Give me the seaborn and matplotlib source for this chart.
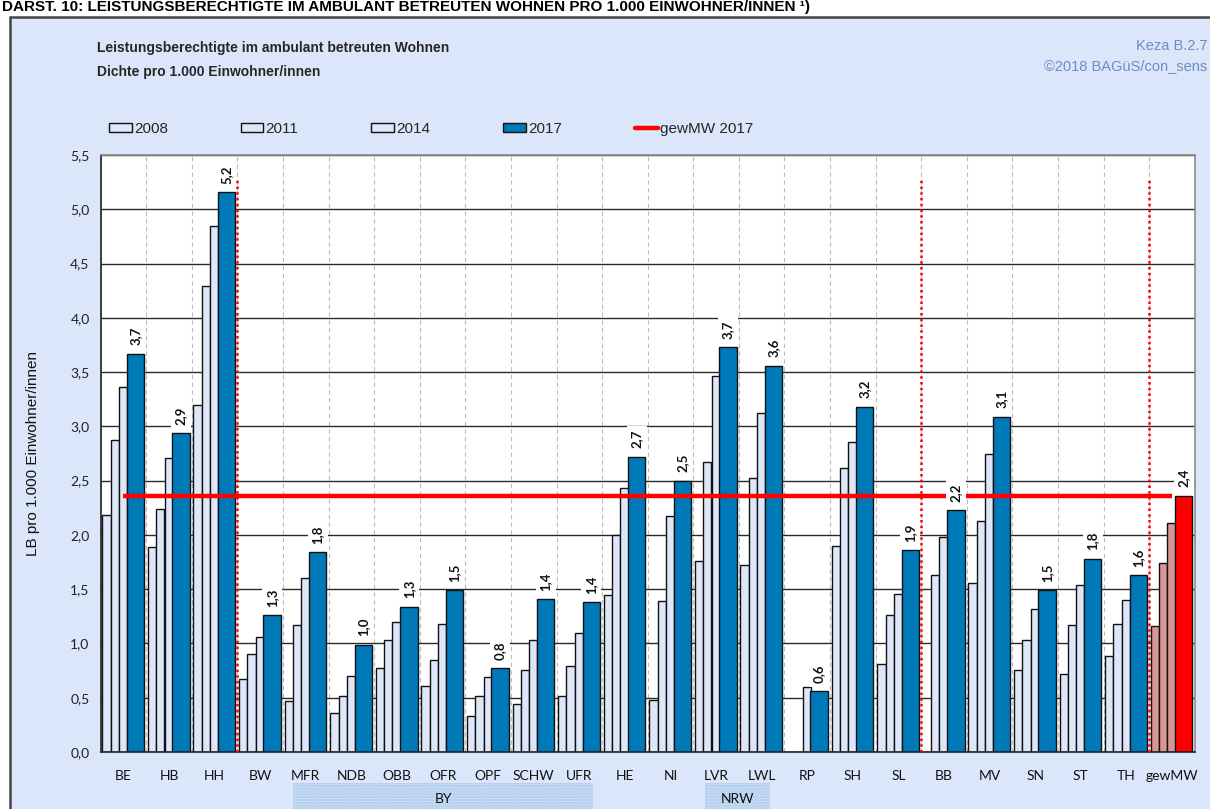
import numpy as np
import pandas as pd
import matplotlib
matplotlib.use("Agg")
import matplotlib.pyplot as plt
import matplotlib.transforms as mtransforms
from matplotlib.patches import Patch, Rectangle
from matplotlib.lines import Line2D
import seaborn as sns

# -----------------------------
# Data
# -----------------------------
regions = ["BE", "HB", "HH", "BW", "MFR", "NDB", "OBB", "OFR", "OPF", "SCHW", "UFR",
           "HE", "NI", "LVR", "LWL", "RP", "SH", "SL", "BB", "MV", "SN", "ST", "TH", "gewMW"]

v2008 = [2.18, 1.89, 3.20, 0.67, 0.47, 0.36, 0.77, 0.61, 0.33, 0.44, 0.52,
         1.45, 0.48, 1.76, 1.72, np.nan, 1.90, 0.81, np.nan, 1.56, 0.76, 0.72, 0.88, 1.16]
v2011 = [2.87, 2.24, 4.29, 0.90, 1.17, 0.52, 1.03, 0.85, 0.52, 0.76, 0.79,
         2.00, 1.39, 2.67, 2.52, np.nan, 2.62, 1.26, 1.63, 2.13, 1.03, 1.17, 1.18, 1.74]
v2014 = [3.36, 2.71, 4.85, 1.06, 1.60, 0.70, 1.20, 1.18, 0.69, 1.03, 1.10,
         2.43, 2.17, 3.46, 3.12, 0.60, 2.86, 1.46, 1.98, 2.75, 1.32, 1.54, 1.40, 2.11]
v2017 = [3.67, 2.94, 5.16, 1.26, 1.84, 0.99, 1.34, 1.49, 0.77, 1.41, 1.38,
         2.72, 2.50, 3.73, 3.56, 0.56, 3.18, 1.86, 2.23, 3.09, 1.49, 1.78, 1.63, 2.36]

mw_2017 = 2.36
yticks = [0.0, 0.5, 1.0, 1.5, 2.0, 2.5, 3.0, 3.5, 4.0, 4.5, 5.0, 5.5]
sep_after = ["HH", "SL", "TH"]
groups = {"BY": ("MFR", "UFR"), "NRW": ("LVR", "LWL")}

# -----------------------------
# Style
# -----------------------------
bg = "#dce6fa"
light = "#dde7f9"
blue = "#0079b9"
rose = "#d99694"
red = "#ff0000"
arial = ["Liberation Sans", "DejaVu Sans"]
calib = ["Lato", "DejaVu Sans"]

sns.set_style("white")
plt.rcParams["font.family"] = calib
plt.rcParams["hatch.linewidth"] = 1.2

fig = plt.figure(figsize=(12.1, 8.09), dpi=100)
fig.patch.set_facecolor("white")
fig.patches.append(Rectangle((10 / 1210, -0.02), 1.1, (809 - 17) / 809 + 0.02,
                             transform=fig.transFigure, fc=bg, ec="#444444",
                             lw=1.8, zorder=-2))

ax = fig.add_axes([100.7 / 1210, (809 - 752) / 809, 1094 / 1210, 597 / 809])
ax.set_facecolor("white")
ax.set_zorder(2)

# -----------------------------
# Bars: three light years plus wider 2017 bar per region
# -----------------------------
series = [
    (v2008, -0.374, 0.182, light, rose),
    (v2011, -0.192, 0.182, light, rose),
    (v2014, -0.009, 0.182, light, rose),
    (v2017, 0.26, 0.38, blue, red),
]
for vals, off, w, c_land, c_mw in series:
    d = pd.DataFrame({
        "pos": np.arange(len(regions)) + off,
        "val": vals,
        "kind": ["mw" if r == "gewMW" else "land" for r in regions],
    }).dropna()
    sns.barplot(data=d, x="pos", y="val", hue="kind", hue_order=["land", "mw"],
                palette={"land": c_land, "mw": c_mw}, native_scale=True,
                dodge=False, width=w, errorbar=None, legend=False, saturation=1,
                edgecolor="#111111", linewidth=1.0, ax=ax, zorder=2)

# weighted mean line
ax.hlines(mw_2017, 0, len(regions) - 1, colors=red, lw=3.2, zorder=3)

# data labels for 2017
for i, v in enumerate(v2017):
    ax.annotate(f"{v:.1f}".replace(".", ","), xy=(i + 0.26, v), xytext=(0, 6),
                textcoords="offset points", rotation=90, ha="center", va="bottom",
                fontsize=9.5, fontweight="bold", family=calib, color="#111111",
                bbox=dict(boxstyle="square,pad=0.3", fc="white", ec="none"),
                zorder=4)

# red dotted separators
for r in sep_after:
    xs = regions.index(r) + 0.5
    ax.vlines(xs, 0, 5.28, colors=red, linestyles=(0, (1, 1.3)), lw=1.8, zorder=5)

# -----------------------------
# Axes
# -----------------------------
ax.set_xlim(-0.5, len(regions) - 0.5)
ax.set_ylim(0, 5.5)
ax.set_yticks(yticks)
ax.set_yticklabels([f"{t:.1f}".replace(".", ",") for t in yticks],
                   fontsize=10, color="#222222")
ax.set_xticks(np.arange(len(regions)))
ax.set_xticklabels(regions, fontsize=10, color="#111111")
ax.set_xticks(np.arange(-0.5, len(regions)), minor=True)
ax.tick_params(axis="x", which="major", length=0, pad=13)
ax.tick_params(axis="x", which="minor", length=5, width=1, color="#333333",
               direction="out")
ax.tick_params(axis="y", length=5, width=1, color="#333333", direction="out", pad=3)
ax.yaxis.grid(True, color="#2a2a2a", lw=1.0, zorder=0)
ax.xaxis.grid(True, which="minor", color="#bdbdbd", lw=0.8, ls=(0, (4, 3)), zorder=0)
ax.set_axisbelow(True)
ax.set_xlabel("")
ax.set_ylabel("LB pro 1.000 Einwohner/innen", fontsize=11, family=arial,
              color="#111111")
ax.yaxis.set_label_coords(-0.0555, 0.5)
for s in ["left", "bottom"]:
    ax.spines[s].set_color("#222222")
    ax.spines[s].set_linewidth(1.2)
for s in ["top", "right"]:
    ax.spines[s].set_color("#8c8c8c")
    ax.spines[s].set_linewidth(1.2)

# group boxes below the axis
trans = mtransforms.blended_transform_factory(ax.transData, fig.transFigure)
group_pads = {"BY": (-0.28, 0.3), "NRW": (-0.25, 0.18)}
for name, (a, b) in groups.items():
    x0 = regions.index(a) + group_pads[name][0]
    x1 = regions.index(b) + group_pads[name][1]
    fig.patches.append(Rectangle((x0, -0.01), x1 - x0, (809 - 783) / 809 + 0.01,
                                 transform=trans, fc="#d3e3f6", ec="#9fc3ea",
                                 hatch="......", lw=0, zorder=-1))
    fig.text((x0 + x1) / 2, 0.012, name, transform=trans, ha="center", va="center",
             fontsize=10, color="#111111", zorder=2)

# -----------------------------
# Titles and legend
# -----------------------------
fig.text(2 / 1210, (809 - 11) / 809,
         "DARST. 10: LEISTUNGSBERECHTIGTE IM AMBULANT BETREUTEN WOHNEN PRO 1.000 EINWOHNER/INNEN \u00b9)",
         ha="left", va="baseline", fontsize=11, fontweight="bold", family=arial,
         color="black")
fig.text(97 / 1210, (809 - 48) / 809, "Leistungsberechtigte im ambulant betreuten Wohnen",
         ha="left", va="center", fontsize=10, fontweight="bold", family=arial)
fig.text(97 / 1210, (809 - 72) / 809, "Dichte pro 1.000 Einwohner/innen",
         ha="left", va="center", fontsize=10, fontweight="bold", family=arial)
fig.text(1207 / 1210, (809 - 46) / 809, "Keza B.2.7", ha="right", va="center",
         fontsize=10.5, family=arial, color="#6b8cc4")
fig.text(1207 / 1210, (809 - 66) / 809, "\u00a92018 BAG\u00fcS/con_sens", ha="right",
         va="center", fontsize=10.5, family=arial, color="#6b8cc4")

handles = [
    Patch(fc=light, ec="#111111", lw=1.0, label="2008"),
    Patch(fc=light, ec="#111111", lw=1.0, label="2011"),
    Patch(fc=light, ec="#111111", lw=1.0, label="2014"),
    Patch(fc=blue, ec="#111111", lw=1.0, label="2017"),
    Line2D([0], [0], color=red, lw=3.2, label="gewMW 2017"),
]
fig.legend(handles=handles, loc="center left",
           bbox_to_anchor=(95 / 1210, (809 - 129) / 809), ncol=5, frameon=False,
           handlelength=1.5, handleheight=0.55, handletextpad=0.15,
           columnspacing=4.75, prop={"family": arial, "size": 11})

fig.savefig("out.png", dpi=100, facecolor=fig.get_facecolor())
